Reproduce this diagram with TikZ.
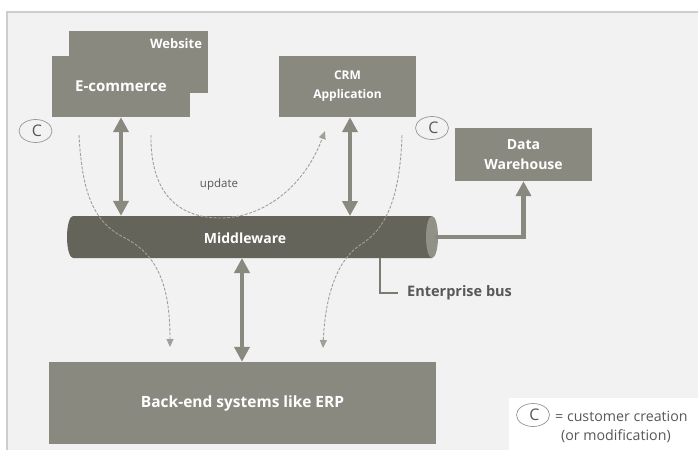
\documentclass[tikz,border=0pt]{standalone}
\usepackage{fontspec}
\setmainfont{Open Sans}
\usetikzlibrary{arrows.meta,calc,shapes.geometric}
\definecolor{bgc}{RGB}{242,242,242}
\definecolor{framec}{RGB}{205,205,205}
\definecolor{boxc}{RGB}{137,137,127}
\definecolor{cylc}{RGB}{101,100,91}
\definecolor{cylend}{RGB}{145,145,136}
\definecolor{dashc}{RGB}{160,160,154}
\definecolor{txtc}{RGB}{88,88,88}
\definecolor{circc}{RGB}{150,150,150}
\tikzset{
  box/.style={fill=boxc, text=white, font=\bfseries, inner sep=0, align=center},
  dbl/.style={draw=boxc, line width=4.5pt, {Triangle[width=15pt,length=15pt]}-{Triangle[width=15pt,length=15pt]}},
  single/.style={draw=boxc, line width=4.5pt, -{Triangle[width=15pt,length=15pt]}},
  flow/.style={draw=dashc, line width=0.9pt, dash pattern=on 3pt off 1.5pt, -{Triangle[width=7pt,length=8pt]}},
  cmark/.style={draw=circc, line width=0.7pt, ellipse, inner sep=0, minimum width=33pt, minimum height=23pt, text=txtc, font=\fontsize{16}{16}\selectfont},
}
\begin{document}
\begin{tikzpicture}[x=1pt,y=-1pt]
\useasboundingbox (0,0) rectangle (698,450);
% background
\fill[white] (0,0) rectangle (698,450);
\fill[bgc] (7,12) rectangle (698,450);
\draw[framec, line width=1.2pt] (7,450) -- (7,12) -- (698,12);
\fill[white] (509,398) rectangle (698,450);

% boxes
\node[box, minimum width=139pt, minimum height=62pt] (web) at (138.5,62) {};
\node[anchor=north east, text=white, font=\bfseries\fontsize{13}{13}\selectfont, inner sep=0] (webt) at ($(web.north east)+(-6,7.5)$) {Website};
\node[box, minimum width=138pt, minimum height=61pt, font=\bfseries\fontsize{15}{15}\selectfont] (ecom) at (121,86.5) {E-commerce};
\node[box, minimum width=137pt, minimum height=61pt, font=\bfseries\fontsize{12}{19}\selectfont] (crm) at (347.5,86.5) {CRM\\Application};
\node[box, minimum width=137pt, minimum height=53pt, font=\bfseries\fontsize{14}{20}\selectfont] (dw) at (523.5,154.5) {Data\\Warehouse};
\node[box, minimum width=387pt, minimum height=82pt, font=\bfseries\fontsize{15.5}{15.5}\selectfont] (be) at (242.5,403) {Back-end systems like ERP};

% cylinder
\node[minimum width=371pt, minimum height=42pt, inner sep=0] (mw) at (249.5,237) {};
\fill[cylc] (432,216) -- (73,216) arc[start angle=90, end angle=270, x radius=6pt, y radius=21pt] -- (432,258) -- cycle;
\fill[cylend] (432,237) ellipse [x radius=6pt, y radius=21pt];
\node[text=white, font=\bfseries\fontsize{14}{14}\selectfont, inner sep=0] (mwt) at (245,238) {Middleware};

% double arrows
\draw[dbl] (ecom.south) -- (ecom.south |- mw.north);
\draw[dbl] (crm.south -| 350,0) -- (350,216);
\draw[dbl] (242,258) -- (be.north -| 242,0);
\draw[single] (mw.east) -- (dw.south |- mw.east) -- (dw.south);

% enterprise bus
\node[anchor=west, text=txtc, font=\bfseries\fontsize{14.5}{14.5}\selectfont, inner sep=0] (eb) at (407,293) {Enterprise bus};
\draw[draw=boxc!90!black, line width=1.8pt] (380,258) |- ($(eb.west)+(-9,0)$);

% flows
\coordinate (f1s) at (79,135);
\coordinate (f1e) at (170,347);
\draw[flow] (f1s) .. controls (82,190) and (92,222) .. (125,238) .. controls (160,256) and (170,290) .. (f1e);
\coordinate (f2s) at (151,135);
\coordinate (f2e) at (325,131);
\draw[flow] (f2s) .. controls (150,200) and (185,218) .. (220,218) .. controls (265,218) and (305,185) .. (f2e);
\coordinate (f3s) at (402,135);
\coordinate (f3e) at (323,348);
\draw[flow] (f3s) .. controls (400,200) and (385,230) .. (360,245) .. controls (335,262) and (325,300) .. (f3e);
\node[text=txtc, font=\fontsize{11.5}{11.5}\selectfont, inner sep=0] (upd) at (219,185) {update};

% C marks
\node[cmark] (c1) at (35.5,131) {\hspace{3pt}C};
\node[cmark] (c2) at (432,128) {\hspace{3pt}C};
\node[cmark] (c3) at (533,415) {\hspace{3pt}C};
\node[anchor=west, text=txtc, font=\fontsize{14.2}{14.2}\selectfont, inner sep=0] (lg1) at (555,416) {= customer creation};
\node[anchor=west, text=txtc, font=\fontsize{14.2}{14.2}\selectfont, inner sep=0] (lg2) at (561,436) {(or modification)};
\end{tikzpicture}
\end{document}
